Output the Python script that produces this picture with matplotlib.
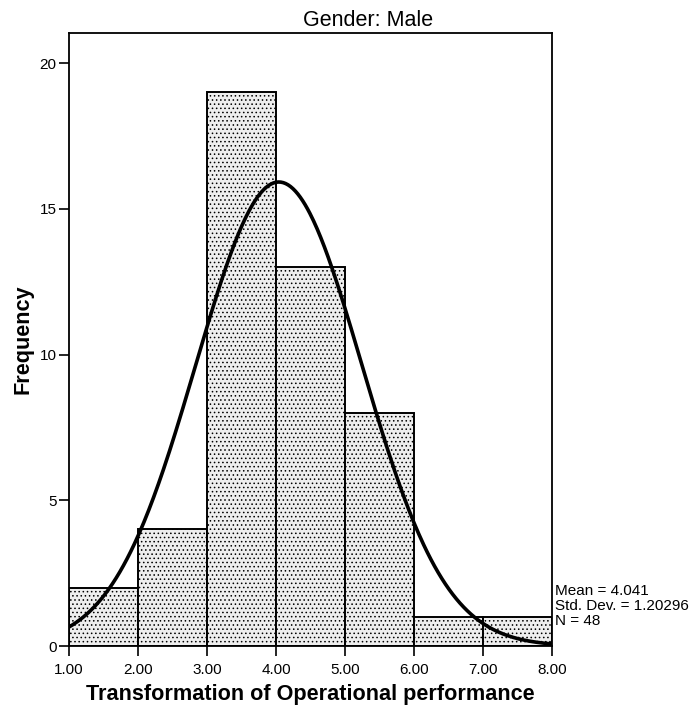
import numpy as np
import matplotlib
matplotlib.use("Agg")
import matplotlib.pyplot as plt

# Histogram bins and counts for male respondents
bin_edges = [1, 2, 3, 4, 5, 6, 7, 8]
counts = [2, 4, 19, 13, 8, 1, 1]

mean = 4.041
std_dev = 1.20296
n = 48

x_ticks = [1, 2, 3, 4, 5, 6, 7, 8]
x_tick_labels = ["1.00", "2.00", "3.00", "4.00", "5.00", "6.00", "7.00", "8.00"]
y_ticks = [0, 5, 10, 15, 20]

plt.rcParams["font.family"] = ["Liberation Sans", "DejaVu Sans"]
plt.rcParams["hatch.color"] = "#8a8a8a"
plt.rcParams["hatch.linewidth"] = 0.6

fig = plt.figure(figsize=(6.96, 7.13), dpi=100)
ax = fig.add_axes([69 / 696, 1 - 646 / 713, (552 - 69) / 696, (646 - 33) / 713])

# Stippled bars
widths = np.diff(bin_edges)
ax.bar(bin_edges[:-1], counts, width=widths, align="edge",
       facecolor="#eeeeee", edgecolor="black", linewidth=1.4,
       hatch="....", zorder=2)

# Fitted normal curve scaled to counts (bin width 1)
xs = np.linspace(1, 8, 400)
bw = bin_edges[1] - bin_edges[0]
ys = n * bw / (std_dev * np.sqrt(2 * np.pi)) * np.exp(-0.5 * ((xs - mean) / std_dev) ** 2)
ax.plot(xs, ys, color="black", linewidth=2.6, zorder=3, solid_capstyle="butt")

ax.set_xlim(1, 8)
ax.set_ylim(0, 21.03)
ax.set_xticks(x_ticks)
ax.set_xticklabels(x_tick_labels)
ax.set_yticks(y_ticks)
ax.tick_params(axis="both", direction="out", length=7, width=1.2,
               labelsize=11, pad=2)
ax.tick_params(axis="x", pad=5)

for sp in ax.spines.values():
    sp.set_linewidth(1.3)

ax.set_xlabel("Transformation of Operational performance", fontsize=15.6,
              fontweight="bold", labelpad=5)
ax.set_ylabel("Frequency", fontsize=15.6, fontweight="bold", labelpad=4)

fig.text(368 / 696, 1 - 20 / 713, "Gender: Male", fontsize=15.5,
         ha="center", va="center")

# Summary statistics beside the plot
stats = "Mean = {:.3f}\nStd. Dev. = {}\nN = {}".format(mean, std_dev, n)
fig.text(555 / 696, 1 - 606 / 713, stats, fontsize=11, ha="left",
         va="center", linespacing=1.08)

fig.savefig("out.png", dpi=100)
